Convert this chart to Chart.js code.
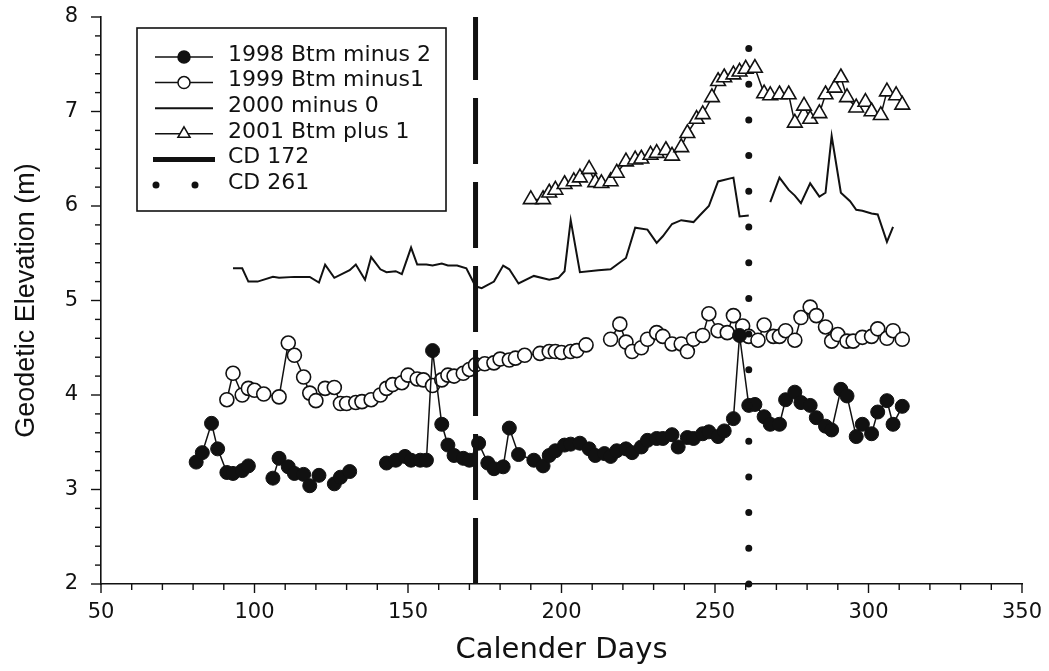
<!DOCTYPE html>
<html>
<head>
<meta charset="utf-8">
<script src="https://cdn.jsdelivr.net/npm/chart.js@4.4.1/dist/chart.umd.min.js"></script>
<style>
  html, body { margin: 0; padding: 0; background: #ffffff; }
  #wrap { width: 1049px; height: 671px; position: relative; }
</style>
</head>
<body>
<div id="wrap"><canvas id="c" width="1049" height="671"></canvas></div>
<script>
// ---------------- DATA ----------------
const legendLabels = ['1998 Btm minus 2', '1999 Btm minus1', '2000 minus 0', '2001 Btm plus 1', 'CD 172', 'CD 261'];
const xTitle = 'Calender Days';
const yTitle = 'Geodetic Elevation (m)';
const xTickValues = [50, 100, 150, 200, 250, 300, 350];
const yTickValues = [2, 3, 4, 5, 6, 7, 8];

const days1998 = [81,83,86,88,91,93,96,98,106,108,111,113,116,118,121,126,128,131,143,146,149,151,154,156,158,161,163,165,168,170,173,176,178,181,183,186,191,194,196,198,201,203,206,209,211,214,216,218,221,223,226,228,231,233,236,238,241,243,246,248,251,253,256,258,261,263,266,268,271,273,276,278,281,283,286,288,291,293,296,298,301,303,306,308,311];
const elev1998 = [3.29,3.39,3.70,3.43,3.18,3.17,3.20,3.25,3.12,3.33,3.24,3.17,3.16,3.04,3.15,3.06,3.13,3.19,3.28,3.31,3.35,3.31,3.31,3.31,4.47,3.69,3.47,3.36,3.33,3.31,3.49,3.28,3.22,3.24,3.65,3.37,3.31,3.25,3.36,3.41,3.47,3.48,3.49,3.43,3.36,3.38,3.35,3.41,3.43,3.39,3.45,3.52,3.54,3.54,3.58,3.45,3.55,3.54,3.59,3.61,3.56,3.62,3.75,4.63,3.89,3.90,3.77,3.69,3.69,3.95,4.03,3.92,3.89,3.76,3.67,3.63,4.06,3.99,3.56,3.69,3.59,3.82,3.94,3.69,3.88];
const breaks1998 = [98, 121, 131];

const days1999 = [91,93,96,98,100,103,108,111,113,116,118,120,123,126,128,130,133,135,138,141,143,145,148,150,153,155,158,161,163,165,168,170,172,175,178,180,183,185,188,193,196,198,200,203,205,208,216,219,221,223,226,228,231,233,236,239,241,243,246,248,251,254,256,259,261,264,266,269,271,273,276,278,281,283,286,288,290,293,295,298,301,303,306,308,311];
const elev1999 = [3.95,4.23,4.00,4.07,4.05,4.01,3.98,4.55,4.42,4.19,4.02,3.94,4.07,4.08,3.91,3.91,3.92,3.93,3.95,4.00,4.07,4.11,4.13,4.21,4.17,4.16,4.10,4.16,4.21,4.20,4.23,4.27,4.32,4.33,4.34,4.38,4.37,4.39,4.42,4.44,4.46,4.46,4.45,4.46,4.47,4.53,4.59,4.75,4.56,4.46,4.50,4.59,4.66,4.62,4.54,4.54,4.46,4.59,4.63,4.86,4.68,4.66,4.84,4.73,4.62,4.58,4.74,4.62,4.62,4.68,4.58,4.82,4.93,4.84,4.72,4.57,4.64,4.57,4.57,4.61,4.62,4.70,4.60,4.68,4.59];
const breaks1999 = [208];

const days2000 = [93,96,98,101,106,108,113,118,121,123,126,131,133,136,138,141,143,146,148,151,153,156,158,161,163,166,169,172,174,178,181,183,186,191,196,199,201,203,206,212,216,221,224,228,231,233,236,239,243,245,248,251,256,258,261,268,271,274,276,278,281,284,286,288,291,294,296,298,301,303,306,308];
const elev2000 = [5.34,5.34,5.20,5.20,5.25,5.24,5.25,5.25,5.19,5.38,5.24,5.32,5.38,5.22,5.46,5.33,5.30,5.31,5.28,5.56,5.38,5.38,5.37,5.39,5.37,5.37,5.34,5.15,5.13,5.20,5.37,5.33,5.18,5.26,5.22,5.24,5.31,5.85,5.30,5.32,5.33,5.45,5.77,5.75,5.61,5.68,5.81,5.85,5.83,5.90,6.00,6.26,6.30,5.89,5.90,6.04,6.30,6.17,6.11,6.03,6.24,6.10,6.14,6.74,6.14,6.05,5.96,5.95,5.92,5.91,5.62,5.78];
const breaks2000 = [261];

const days2001 = [190,194,196,198,201,204,206,209,211,213,216,218,221,224,226,229,231,234,236,239,241,244,246,249,251,253,256,258,260,263,266,268,271,274,276,279,281,284,286,289,291,293,296,299,301,304,306,309,311];
const elev2001 = [6.07,6.07,6.14,6.17,6.23,6.26,6.30,6.39,6.25,6.24,6.26,6.35,6.47,6.49,6.50,6.54,6.56,6.59,6.53,6.62,6.77,6.92,6.97,7.15,7.32,7.36,7.39,7.42,7.45,7.46,7.19,7.17,7.18,7.18,6.88,7.06,6.92,6.98,7.18,7.25,7.36,7.15,7.04,7.10,7.00,6.96,7.21,7.17,7.07];

const cdDays = [172, 261];
const cdSpan = [2, 8];

// ---------------- STYLE ----------------
const INK = '#111111';
const SANS_WIDE = '"DejaVu Sans", "Liberation Sans", Arial, sans-serif';
const SANS = '"Liberation Sans", Arial, sans-serif';
const xMinorStep = 10, xMajorStep = 50;
const yMinorStep = 0.2;

function pts(days, vals) { return days.map((d, i) => ({ x: d, y: vals[i] })); }
function gapSegment(days, breaks, color) {
  return { borderColor: c => breaks.includes(days[c.p0DataIndex]) ? 'rgba(0,0,0,0)' : color };
}

const datasets = [
  { label: legendLabels[5], data: pts([cdDays[1], cdDays[1]], cdSpan), borderColor: INK, borderWidth: 7,
    borderDash: [0, 35.7], borderCapStyle: 'round', pointRadius: 0, clip: false },
  { label: legendLabels[4], data: pts([cdDays[0], cdDays[0]], cdSpan), borderColor: INK, borderWidth: 5,
    borderDash: [66, 18], pointRadius: 0 },
  { label: legendLabels[0], data: pts(days1998, elev1998), borderColor: INK, borderWidth: 1.5,
    segment: gapSegment(days1998, breaks1998, INK),
    pointStyle: 'circle', pointRadius: 7, pointBackgroundColor: INK, pointBorderColor: INK, pointBorderWidth: 1 },
  { label: legendLabels[1], data: pts(days1999, elev1999), borderColor: INK, borderWidth: 1.5,
    segment: gapSegment(days1999, breaks1999, INK),
    pointStyle: 'circle', pointRadius: 7, pointBackgroundColor: '#ffffff', pointBorderColor: INK, pointBorderWidth: 1.6 },
  { label: legendLabels[2], data: pts(days2000, elev2000), borderColor: INK, borderWidth: 2,
    segment: gapSegment(days2000, breaks2000, INK), pointRadius: 0 },
  { label: legendLabels[3], data: pts(days2001, elev2001), borderColor: INK, borderWidth: 1.5,
    pointStyle: 'triangle', pointRadius: 8.5, pointBackgroundColor: '#ffffff', pointBorderColor: INK, pointBorderWidth: 1.6 }
];

// minor/major tick marks drawn from the scales
const tickPlugin = {
  id: 'tickMarks',
  afterDraw(chart) {
    const { ctx, scales: { x, y }, chartArea } = chart;
    ctx.save();
    ctx.strokeStyle = INK;
    ctx.lineWidth = 1.4;
    const nX = Math.round((x.max - x.min) / xMinorStep);
    for (let i = 0; i <= nX; i++) {
      const v = x.min + i * xMinorStep;
      const px = x.getPixelForValue(v);
      const major = Math.abs(v % xMajorStep) < 1e-6;
      ctx.beginPath();
      ctx.moveTo(px, chartArea.bottom);
      ctx.lineTo(px, chartArea.bottom + (major ? 9 : 6));
      ctx.stroke();
    }
    const nY = Math.round((y.max - y.min) / yMinorStep);
    for (let i = 0; i <= nY; i++) {
      const v = y.min + i * yMinorStep;
      const py = y.getPixelForValue(v);
      const major = Math.abs(v - Math.round(v)) < 1e-6;
      ctx.beginPath();
      ctx.moveTo(chartArea.left, py);
      ctx.lineTo(chartArea.left - (major ? 10 : 6), py);
      ctx.stroke();
    }
    ctx.restore();
  }
};

// boxed legend in the upper-left of the plot
const legendKinds = ['filled', 'open', 'line', 'tri', 'thick', 'dots'];
const legendPlugin = {
  id: 'boxLegend',
  afterDraw(chart) {
    const ctx = chart.ctx;
    const boxL = 137, boxT = 28, boxB = 211;
    const sampleL = 155, sampleR = 213, sampleC = 184, textX = 228;
    const row0 = 57, rowStep = 25.6;
    ctx.save();
    ctx.font = '22px ' + SANS_WIDE;
    let maxW = 0;
    legendLabels.forEach(t => { maxW = Math.max(maxW, ctx.measureText(t).width); });
    const boxR = textX + maxW + 15;
    ctx.fillStyle = '#ffffff';
    ctx.fillRect(boxL, boxT, boxR - boxL, boxB - boxT);
    ctx.strokeStyle = INK;
    ctx.lineWidth = 1.6;
    ctx.strokeRect(boxL, boxT, boxR - boxL, boxB - boxT);
    legendLabels.forEach((label, i) => {
      const yy = row0 + i * rowStep;
      const kind = legendKinds[i];
      ctx.strokeStyle = INK;
      ctx.fillStyle = INK;
      if (kind === 'dots') {
        [156, 195].forEach(dx => { ctx.beginPath(); ctx.arc(dx, yy, 3.5, 0, Math.PI * 2); ctx.fill(); });
      } else {
        ctx.lineWidth = kind === 'thick' ? 5 : (kind === 'line' ? 2 : 1.5);
        ctx.beginPath();
        ctx.moveTo(kind === 'thick' ? 153 : sampleL, yy);
        ctx.lineTo(kind === 'thick' ? 215 : sampleR, yy);
        ctx.stroke();
        ctx.lineWidth = 1.5;
        if (kind === 'filled' || kind === 'open') {
          ctx.beginPath();
          ctx.arc(sampleC, yy, 6, 0, Math.PI * 2);
          ctx.fillStyle = kind === 'filled' ? INK : '#ffffff';
          ctx.fill();
          ctx.stroke();
        } else if (kind === 'tri') {
          const r = 7;
          ctx.beginPath();
          for (let k = 0; k < 3; k++) {
            const a = k * 2 * Math.PI / 3;
            const px = sampleC + Math.sin(a) * r, py = yy - Math.cos(a) * r;
            if (k === 0) ctx.moveTo(px, py); else ctx.lineTo(px, py);
          }
          ctx.closePath();
          ctx.fillStyle = '#ffffff';
          ctx.fill();
          ctx.stroke();
        }
      }
      ctx.fillStyle = INK;
      ctx.textBaseline = 'middle';
      ctx.textAlign = 'left';
      ctx.fillText(label, textX, yy - 2);
    });
    ctx.restore();
  }
};

new Chart(document.getElementById('c').getContext('2d'), {
  type: 'line',
  data: { datasets },
  options: {
    responsive: false,
    animation: false,
    devicePixelRatio: 1,
    layout: { padding: { top: 17, right: 27, left: 0, bottom: 0 } },
    plugins: { legend: { display: false }, tooltip: { enabled: false } },
    elements: { line: { tension: 0 } },
    scales: {
      x: {
        type: 'linear', min: 50, max: 350,
        afterBuildTicks: s => { s.ticks = xTickValues.map(v => ({ value: v })); },
        afterFit: s => { s.height = 87; s.paddingLeft = 0; s.paddingRight = 0; },
        border: { display: true, color: INK, width: 1.6 },
        grid: { display: true, drawOnChartArea: false, drawTicks: false },
        ticks: { padding: 16, color: INK, font: { family: SANS_WIDE, size: 21 }, maxRotation: 0, autoSkip: false },
        title: { display: true, text: xTitle, color: INK, font: { family: SANS_WIDE, size: 29, lineHeight: 1.2 }, padding: { top: 0, bottom: 3 } }
      },
      y: {
        type: 'linear', min: 2, max: 8,
        afterBuildTicks: s => { s.ticks = yTickValues.map(v => ({ value: v })); },
        afterFit: s => { s.width = 101; s.paddingTop = 0; s.paddingBottom = 0; },
        border: { display: true, color: INK, width: 1.6 },
        grid: { display: true, drawOnChartArea: false, drawTicks: false },
        ticks: { padding: 23, color: INK, font: { family: SANS_WIDE, size: 21 }, autoSkip: false },
        title: { display: true, text: yTitle, color: INK, font: { family: SANS, size: 27, lineHeight: 1.2 }, padding: { top: 10, bottom: 0 } }
      }
    }
  },
  plugins: [tickPlugin, legendPlugin]
});
</script>
</body>
</html>
